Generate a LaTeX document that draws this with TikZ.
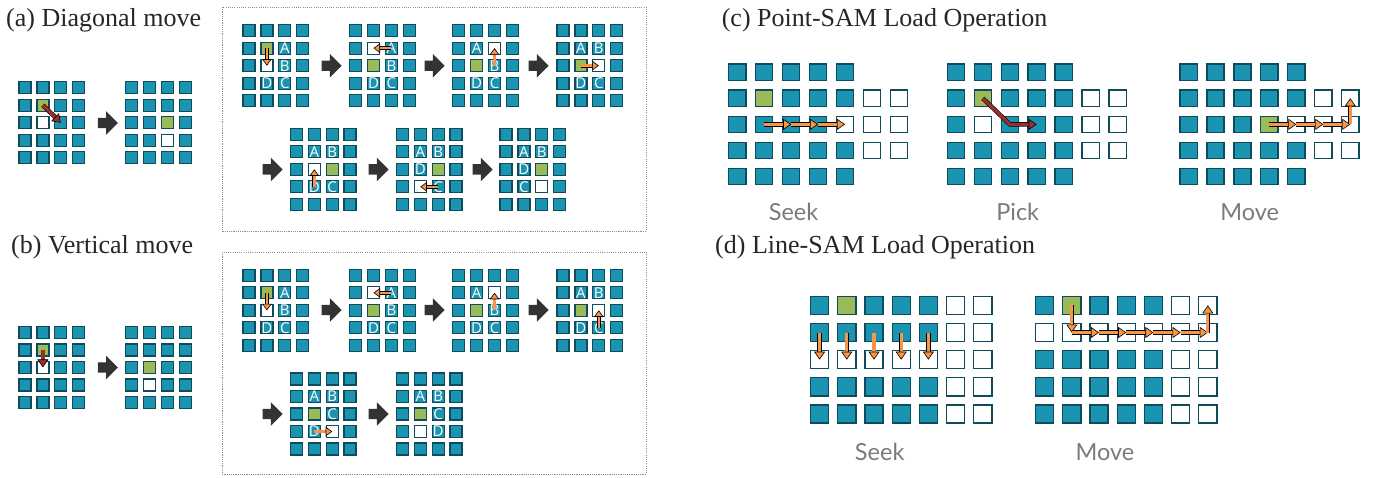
\documentclass[tikz,border=0pt]{standalone}
\usepackage{fontspec}
\setmainfont{Liberation Serif}
\newfontfamily\letterfont{Open Sans}
\newfontfamily\labelfont{Lato}
\usetikzlibrary{arrows.meta,shapes.arrows}

\definecolor{cellteal}{HTML}{1B94B2}
\definecolor{celledge}{HTML}{0E4B5C}
\definecolor{cellgreen}{HTML}{9BBB59}
\definecolor{mvorange}{HTML}{F79646}
\definecolor{mvred}{HTML}{9C2F2B}
\definecolor{stepgray}{HTML}{333333}
\definecolor{labelgray}{HTML}{7A7A7A}
\definecolor{boxgray}{HTML}{8C8C8C}

% 4x5 grid of the move examples: name, centre of cell (1,1)
\newcommand{\smallgrid}[3]{%
  \foreach \cx in {1,...,4}
    \foreach \ry in {1,...,5}
      \node[cell, szs] (#1-\cx-\ry) at ({#2+17.9*(\cx-1)},{#3+17.5*(\ry-1)}) {};}

% SAM grid: name, centre of (1,1), pitch x, pitch y, size style, rows with empty cols 6-7
\newcommand{\samgrid}[7]{%
  \foreach \ry in {1,...,5}
    \foreach \cx in {1,...,5}
      \node[cell, #6] (#1-\cx-\ry) at ({#2+#4*(\cx-1)},{#3+#5*(\ry-1)}) {};
  \foreach \ry in {#7}
    \foreach \cx in {6,7}
      \node[wcell, #6] (#1-\cx-\ry) at ({#2+#4*(\cx-1)},{#3+#5*(\ry-1)}) {};}

\begin{document}
\begin{tikzpicture}[x=1pt, y=-1pt,
  cell/.style={draw=celledge, fill=cellteal, line width=1.3pt, inner sep=0pt},
  wcell/.style={cell, fill=white},
  gcell/.style={cell, fill=cellgreen},
  szs/.style={minimum size=12pt},
  szc/.style={minimum width=17.2pt, minimum height=16.4pt},
  szd/.style={minimum size=18.1pt},
  letter/.style={text=white, inner sep=0pt, font=\letterfont\fontsize{15}{15}\selectfont},
  mvs/.style={draw=black, line width=0.6pt, double=#1, double distance=2.6pt,
    -{Triangle[line width=0.6pt, length=6.5pt, width=9.5pt, fill=#1]}},
  mvm/.style={draw=black, line width=0.6pt, double=#1, double distance=3.2pt,
    -{Triangle[line width=0.6pt, length=8pt, width=11pt, fill=#1]}},
  mvl/.style={draw=black, line width=0.6pt, double=#1, double distance=3.2pt,
    -{Triangle[line width=0.6pt, length=8pt, width=11pt, fill=#1]}},
  stepto/.style={single arrow, fill=stepgray, inner sep=5pt, minimum height=20pt,
    single arrow head extend=6.5pt},
  title/.style={anchor=base west, inner sep=0pt, text=black!85,
    font=\fontsize{26}{30}\selectfont},
  caption/.style={inner sep=0pt, text=labelgray, font=\labelfont\fontsize{23.5}{26}\selectfont},
  seqbox/.style={draw=boxgray, line width=0.9pt, dash pattern=on 1.1pt off 1.1pt}]
  \useasboundingbox (0,0) rectangle (1375,477);

  % titles
  \node[title] (ttl-a) at (6,26.7) {(a) Diagonal move};
  \node[title] (ttl-b) at (11,253) {(b) Vertical move};
  \node[title] (ttl-c) at (721.6,26.7) {(c) Point-SAM Load Operation};
  \node[title] (ttl-d) at (715,253) {(d) Line-SAM Load Operation};

  % (a) diagonal move
  \smallgrid{la1}{25}{87.7}
  \node[gcell, szs] (la1-g) at (la1-2-2) {};
  \node[wcell, szs] (la1-w) at (la1-2-3) {};
  \smallgrid{la2}{131.65}{87.7}
  \node[gcell, szs] (la2-g) at (la2-3-3) {};
  \node[wcell, szs] (la2-w) at (la2-3-4) {};
  \node[stepto] (la-st) at (105.2,123) {};
  \draw[mvl=mvred] (la1-2-2.center) -- (la1-3-3.center);

  \draw[seqbox] (222,7) rectangle (646,231);
  \smallgrid{a1}{249}{30.65}
  \smallgrid{a2}{355.6}{30.65}
  \smallgrid{a3}{458.7}{30.65}
  \smallgrid{a4}{563}{30.65}
  \smallgrid{a5}{296.4}{134.3}
  \smallgrid{a6}{402.4}{134.3}
  \smallgrid{a7}{506}{134.3}
  \node[stepto] (a-st1) at (329,65.7) {};
  \node[stepto] (a-st2) at (432,65.7) {};
  \node[stepto] (a-st3) at (536,65.7) {};
  \node[stepto] (a-st4) at (270,169.4) {};
  \node[stepto] (a-st5) at (376,169.4) {};
  \node[stepto] (a-st6) at (480,169.4) {};

  \node[gcell, szs] (a1-g) at (a1-2-2) {};
  \node[wcell, szs] (a1-w) at (a1-2-3) {};
  \foreach \cx/\ry/\t in {3/2/A,3/3/B,2/4/D,3/4/C}
    \node[letter] (a1-\t) at (a1-\cx-\ry) {\t};
  \draw[mvs=mvorange] (a1-2-2.center) -- (a1-2-3.center);

  \node[wcell, szs] (a2-w) at (a2-2-2) {};
  \node[gcell, szs] (a2-g) at (a2-2-3) {};
  \foreach \cx/\ry/\t in {3/2/A,3/3/B,2/4/D,3/4/C}
    \node[letter] (a2-\t) at (a2-\cx-\ry) {\t};
  \draw[mvs=mvorange] (a2-3-2.center) -- (a2-2-2.center);

  \node[wcell, szs] (a3-w) at (a3-3-2) {};
  \node[gcell, szs] (a3-g) at (a3-2-3) {};
  \foreach \cx/\ry/\t in {2/2/A,3/3/B,2/4/D,3/4/C}
    \node[letter] (a3-\t) at (a3-\cx-\ry) {\t};
  \draw[mvs=mvorange] (a3-3-3.center) -- (a3-3-2.center);

  \node[gcell, szs] (a4-g) at (a4-2-3) {};
  \node[wcell, szs] (a4-w) at (a4-3-3) {};
  \foreach \cx/\ry/\t in {2/2/A,3/2/B,2/4/D,3/4/C}
    \node[letter] (a4-\t) at (a4-\cx-\ry) {\t};
  \draw[mvs=mvorange] (a4-2-3.center) -- (a4-3-3.center);

  \node[wcell, szs] (a5-w) at (a5-2-3) {};
  \node[gcell, szs] (a5-g) at (a5-3-3) {};
  \foreach \cx/\ry/\t in {2/2/A,3/2/B,2/4/D,3/4/C}
    \node[letter] (a5-\t) at (a5-\cx-\ry) {\t};
  \draw[mvs=mvorange] (a5-2-4.center) -- (a5-2-3.center);

  \node[gcell, szs] (a6-g) at (a6-3-3) {};
  \node[wcell, szs] (a6-w) at (a6-2-4) {};
  \foreach \cx/\ry/\t in {2/2/A,3/2/B,2/3/D,3/4/C}
    \node[letter] (a6-\t) at (a6-\cx-\ry) {\t};
  \draw[mvs=mvorange] (a6-3-4.center) -- (a6-2-4.center);

  \node[gcell, szs] (a7-g) at (a7-3-3) {};
  \node[wcell, szs] (a7-w) at (a7-3-4) {};
  \foreach \cx/\ry/\t in {2/2/A,3/2/B,2/3/D,2/4/C}
    \node[letter] (a7-\t) at (a7-\cx-\ry) {\t};

  % (b) vertical move
  \smallgrid{lb1}{25}{332.4}
  \node[gcell, szs] (lb1-g) at (lb1-2-2) {};
  \node[wcell, szs] (lb1-w) at (lb1-2-3) {};
  \smallgrid{lb2}{131.65}{332.4}
  \node[gcell, szs] (lb2-g) at (lb2-2-3) {};
  \node[wcell, szs] (lb2-w) at (lb2-2-4) {};
  \node[stepto] (lb-st) at (105.2,367.5) {};
  \draw[mvl=mvred] (lb1-2-2.center) -- (lb1-2-3.center);

  \draw[seqbox] (222,252) rectangle (646,474);
  \smallgrid{b1}{249}{275.3}
  \smallgrid{b2}{355.6}{275.3}
  \smallgrid{b3}{458.7}{275.3}
  \smallgrid{b4}{563}{275.3}
  \smallgrid{b5}{296.4}{379}
  \smallgrid{b6}{402.4}{379}
  \node[stepto] (b-st1) at (329,310) {};
  \node[stepto] (b-st2) at (432,310) {};
  \node[stepto] (b-st3) at (536,310) {};
  \node[stepto] (b-st4) at (270,414) {};
  \node[stepto] (b-st5) at (376,414) {};

  \node[gcell, szs] (b1-g) at (b1-2-2) {};
  \node[wcell, szs] (b1-w) at (b1-2-3) {};
  \foreach \cx/\ry/\t in {3/2/A,3/3/B,2/4/D,3/4/C}
    \node[letter] (b1-\t) at (b1-\cx-\ry) {\t};
  \draw[mvs=mvorange] (b1-2-2.center) -- (b1-2-3.center);

  \node[wcell, szs] (b2-w) at (b2-2-2) {};
  \node[gcell, szs] (b2-g) at (b2-2-3) {};
  \foreach \cx/\ry/\t in {3/2/A,3/3/B,2/4/D,3/4/C}
    \node[letter] (b2-\t) at (b2-\cx-\ry) {\t};
  \draw[mvs=mvorange] (b2-3-2.center) -- (b2-2-2.center);

  \node[wcell, szs] (b3-w) at (b3-3-2) {};
  \node[gcell, szs] (b3-g) at (b3-2-3) {};
  \foreach \cx/\ry/\t in {2/2/A,3/3/B,2/4/D,3/4/C}
    \node[letter] (b3-\t) at (b3-\cx-\ry) {\t};
  \draw[mvs=mvorange] (b3-3-3.center) -- (b3-3-2.center);

  \node[gcell, szs] (b4-g) at (b4-2-3) {};
  \node[wcell, szs] (b4-w) at (b4-3-3) {};
  \foreach \cx/\ry/\t in {2/2/A,3/2/B,2/4/D,3/4/C}
    \node[letter] (b4-\t) at (b4-\cx-\ry) {\t};
  \draw[mvs=mvorange] (b4-3-4.center) -- (b4-3-3.center);

  \node[gcell, szs] (b5-g) at (b5-2-3) {};
  \node[wcell, szs] (b5-w) at (b5-3-4) {};
  \foreach \cx/\ry/\t in {2/2/A,3/2/B,3/3/C,2/4/D}
    \node[letter] (b5-\t) at (b5-\cx-\ry) {\t};
  \draw[mvs=mvorange] (b5-2-4.center) -- (b5-3-4.center);

  \node[gcell, szs] (b6-g) at (b6-2-3) {};
  \node[wcell, szs] (b6-w) at (b6-2-4) {};
  \foreach \cx/\ry/\t in {2/2/A,3/2/B,3/3/C,3/4/D}
    \node[letter] (b6-\t) at (b6-\cx-\ry) {\t};

  % (c) point-SAM
  \samgrid{cs}{737.25}{72.15}{26.95}{26.1}{szc}{2,3,4}
  \node[gcell, szc] (cs-g) at (cs-2-2) {};
  \node[wcell, szc] (cs-w) at (cs-5-3) {};
  \foreach \cx [evaluate=\cx as \nx using int(\cx+1)] in {2,3,4}
    \draw[mvm=mvorange] (cs-\cx-3.center) -- (cs-\nx-3.center);
  \node[caption] (cs-lbl) at (793.5,212) {Seek};

  \samgrid{cp}{955.85}{72.15}{26.95}{26.1}{szc}{2,3,4}
  \node[gcell, szc] (cp-g) at (cp-2-2) {};
  \node[wcell, szc] (cp-w) at (cp-2-3) {};
  \draw[mvl=mvred] (cp-2-2.center) -- (cp-3-3.center) -- (cp-4-3.center);
  \node[caption] (cp-lbl) at (1017.7,212) {Pick};

  \samgrid{cm}{1188.55}{72.15}{26.95}{26.1}{szc}{2,3,4}
  \node[gcell, szc] (cm-g) at (cm-4-3) {};
  \node[wcell, szc] (cm-w) at (cm-5-3) {};
  \foreach \cx [evaluate=\cx as \nx using int(\cx+1)] in {4,5,6}
    \draw[mvm=mvorange] (cm-\cx-3.center) -- (cm-\nx-3.center);
  \draw[mvm=mvorange] (cm-7-3.center) -- (cm-7-2.center);
  \node[caption] (cm-lbl) at (1249.6,212) {Move};

  % (d) line-SAM
  \samgrid{ds}{819.6}{305.35}{27.2}{27.15}{szd}{1,...,5}
  \node[gcell, szd] (ds-g) at (ds-2-1) {};
  \foreach \cx in {1,...,5}{
    \node[wcell, szd] (ds-w\cx) at (ds-\cx-3) {};
    \draw[mvm=mvorange] (ds-\cx-2.center) -- (ds-\cx-3.center);
  }
  \node[caption] (ds-lbl) at (879.7,451.7) {Seek};

  \samgrid{dm}{1044.6}{305.35}{27.2}{27.15}{szd}{1,...,5}
  \node[gcell, szd] (dm-g) at (dm-2-1) {};
  \foreach \cx in {1,...,5}
    \node[wcell, szd] (dm-w\cx) at (dm-\cx-2) {};
  \draw[mvm=mvorange] (dm-2-1.center) -- (dm-2-2.center);
  \foreach \cx [evaluate=\cx as \nx using int(\cx+1)] in {2,...,6}
    \draw[mvm=mvorange] (dm-\cx-2.center) -- (dm-\nx-2.center);
  \draw[mvm=mvorange] (dm-7-2.center) -- (dm-7-1.center);
  \node[caption] (dm-lbl) at (1105,451.7) {Move};
\end{tikzpicture}
\end{document}
